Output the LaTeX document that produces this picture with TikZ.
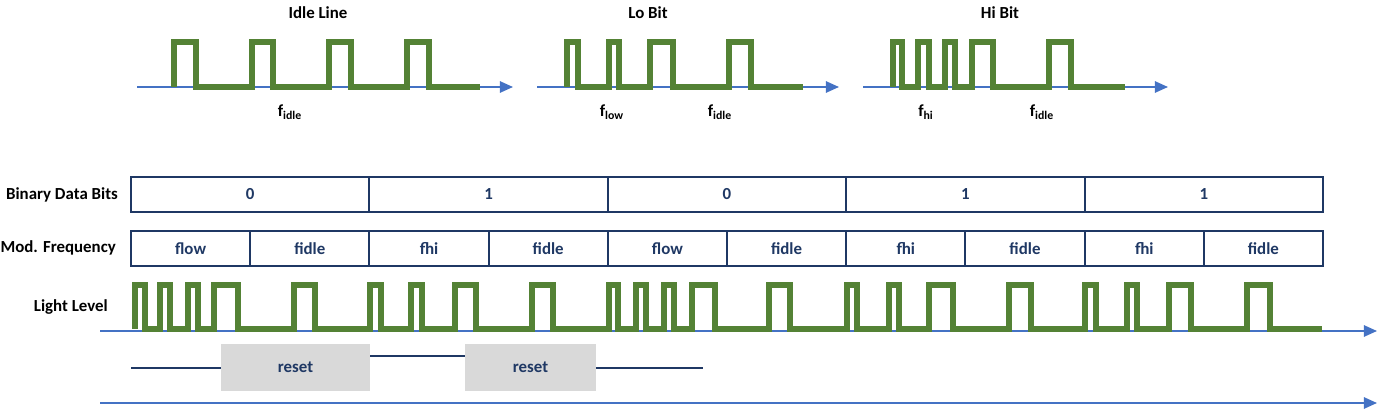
\documentclass[tikz,border=0pt]{standalone}
\usepackage{fontspec}
\setmainfont{Carlito}
\usetikzlibrary{arrows.meta}

\definecolor{wavegreen}{HTML}{548235}
\definecolor{axisblue}{HTML}{4472C4}
\definecolor{navy}{HTML}{1F3864}
\definecolor{resetgray}{HTML}{D9D9D9}
\newcommand{\diagfont}{\fontsize{9.6}{11.5}\selectfont\bfseries}

\tikzset{
  wave/.style={wavegreen, line width=3.3pt, line join=miter},
  axis/.style={axisblue, line width=1pt, -{Triangle[length=7.5pt,width=6.5pt]}},
  cell/.style={draw=navy, line width=1.1pt, minimum height=7mm, inner sep=0pt, text=navy, font=\diagfont},
  rowlabel/.style={anchor=east, font=\diagfont},
  resetbox/.style={fill=resetgray, minimum height=9.4mm, inner sep=0pt, text=navy, font=\diagfont},
  resetline/.style={navy, line width=1.1pt}
}

\begin{document}
\begin{tikzpicture}[x=0.2mm, y=-0.2mm]
        \useasboundingbox (0,0) rectangle (1384,415);

        % single waveforms on top
        \node[font=\diagfont] (idletitle) at (318,13) {Idle Line};
        \node[font=\diagfont] (lotitle) at (648,13) {Lo Bit};
        \node[font=\diagfont] (hititle) at (1000,13) {Hi Bit};
        \draw[axis] (137,87) coordinate (idle0) -- (513,87) coordinate (idle1);
        \draw[axis] (537,87) coordinate (lo0) -- (839,87) coordinate (lo1);
        \draw[axis] (863,87) coordinate (hi0) -- (1168,87) coordinate (hi1);
        \draw[wave] (174,87) \foreach \a/\b in {174/196,252/273,329/351,407/429}{
            -- (\a,87) -- (\a,42) -- (\b,42) -- (\b,87)} -- (480,87);
        \draw[wave] (567,87) \foreach \a/\b in {567/578,609/619,650/673,729/751}{
            -- (\a,87) -- (\a,42) -- (\b,42) -- (\b,87)} -- (803,87);
        \draw[wave] (893,87) \foreach \a/\b in {893/902,918/929,945/955,972/993,1049/1071}{
            -- (\a,87) -- (\a,42) -- (\b,42) -- (\b,87)} -- (1125,87);
        \node[font=\diagfont] (fidleA) at (290,112) {f\textsubscript{idle}};
        \node[font=\diagfont] (flowB) at (612,112) {f\textsubscript{low}};
        \node[font=\diagfont] (fidleB) at (720,112) {f\textsubscript{idle}};
        \node[font=\diagfont] (fhiC) at (926,112) {f\textsubscript{hi}};
        \node[font=\diagfont] (fidleC) at (1042,112) {f\textsubscript{idle}};

        % table rows
        \node[rowlabel] (binlabel) at (124,195) {Binary Data Bits};
        \node[rowlabel] (modlabel) at (122,248) {Mod. Frequency};
        \node[rowlabel] (lightlabel) at (114,307) {Light Level};
        \foreach \b [count=\i] in {0,1,0,1,1}
            \node[cell, minimum width=47.68mm] (bit\i) at ({131+238.4*(\i-0.5)},194.5) {\b};
        \foreach \f [count=\i] in {flow,fidle,fhi,fidle,flow,fidle,fhi,fidle,fhi,fidle}
            \node[cell, minimum width=23.84mm] (mod\i) at ({131+119.2*(\i-0.5)},248.5) {\f};

        % light level
        \draw[axis] (100,331) coordinate (light0) -- (1377,331) coordinate (light1);
        \draw[wave] (135,329) \foreach \a/\b in {135/145,160/170,188/198,214/238,294/315,
            370/381,411/422,455/476,532/553,609/618,636/646,664/674,692/715,769/790,
            847/857,889/899,929/953,1009/1031,1085/1096,1127/1137,1169/1191,1247/1270}{
            -- (\a,329) -- (\a,285) -- (\b,285) -- (\b,329)} -- (1322,329);

        % reset line
        \node[resetbox, minimum width=29.8mm] (reset1) at (295.5,367.5) {reset};
        \node[resetbox, minimum width=26.2mm] (reset2) at (530.5,367.5) {reset};
        \coordinate (rstart) at (131,368);
        \coordinate (rmid) at (0,356);
        \coordinate (rend) at (703,368);
        \draw[resetline] (rstart) -- (reset1.west |- rstart);
        \draw[resetline] (reset1.east |- rmid) -- (reset2.west |- rmid);
        \draw[resetline] (reset2.east |- rend) -- (rend);
        \draw[axis] (100,403) coordinate (time0) -- (1377,403) coordinate (time1);
\end{tikzpicture}
\end{document}
